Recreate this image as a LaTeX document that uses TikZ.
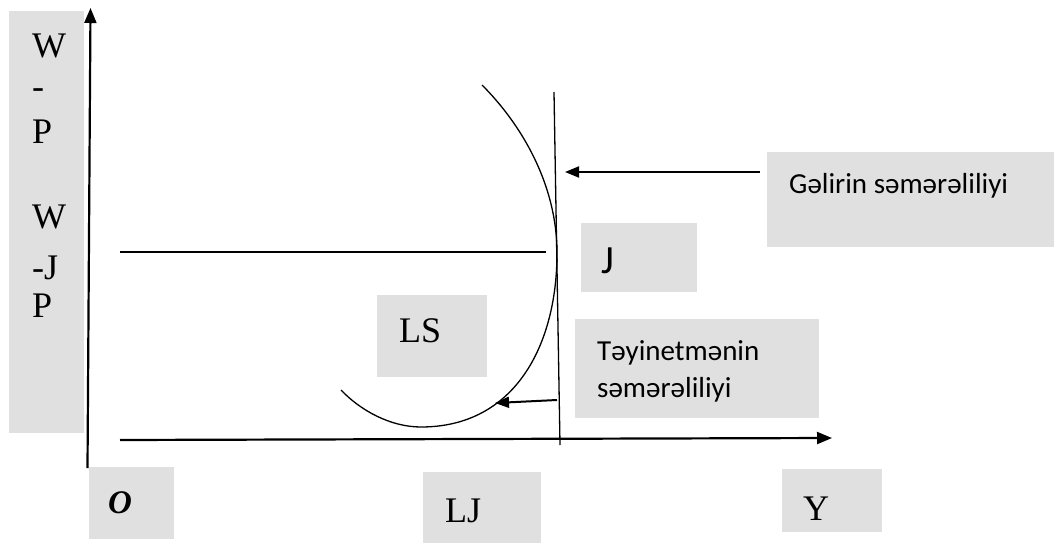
\documentclass[tikz,border=0pt]{standalone}
\usepackage{fontspec}
\setmainfont{Liberation Serif}
\newfontfamily\calib{Carlito}
\usetikzlibrary{arrows.meta}
\definecolor{boxgray}{RGB}{224,224,224}
\tikzset{
  bg/.style={fill=boxgray},
  sertext/.style={anchor=base west, inner sep=0pt, font=\fontsize{36}{40}\selectfont},
  santext/.style={anchor=base west, inner sep=0pt, font=\calib\fontsize{29}{34}\selectfont},
  axis/.style={line width=2.2pt, -{Triangle[length=15pt,width=12pt]}},
  thin/.style={line width=1.3pt},
  pointer/.style={line width=2pt, -{Triangle[length=14pt,width=11pt]}}
}
\begin{document}
\begin{tikzpicture}[x=1pt,y=-1pt]
\useasboundingbox (0,0) rectangle (1054,543);
% gray boxes
\path[bg] (9,11) rectangle (84,433);
\path[bg] (767,152) rectangle (1054,247);
\path[bg] (581,223) rectangle (697,292);
\path[bg] (575,319) rectangle (819,418);
\path[bg] (377,295) rectangle (487,377);
\path[bg] (89,467) rectangle (174,539);
\path[bg] (423,472) rectangle (541,543);
\path[bg] (782,469) rectangle (882,532);
% left label
\node[sertext] (w1) at (32,57) {W};
\node[sertext] (h1) at (32,98) {-};
\node[sertext] (p1) at (32,143) {P};
\node[sertext] (w2) at (32,228) {W};
\node[sertext] (h2) at (32,279) {-J};
\node[sertext] (p2) at (32,317) {P};
% other labels
\node[sertext] (ls) at (399,342) {LS};
\node[sertext] (lj) at (445,522) {LJ};
\node[sertext] (y) at (803,520) {Y};
\node[sertext, font=\fontsize{33}{36}\selectfont\bfseries\itshape] (o) at (108,513) {O};
\node[santext] (gs) at (789,193) {Gəlirin səmərəliliyi};
\node[santext, font=\calib\fontsize{40}{44}\selectfont] (j) at (601,273) {J};
\node[santext] (ts1) at (597,360) {Təyinetmənin};
\node[santext] (ts2) at (597,397) {səmərəliliyi};
% axes
\coordinate (ybot) at (87.5,468);
\coordinate (ytop) at (90.5,8);
\coordinate (xl) at (120,440);
\coordinate (xr) at (832,438);
\draw[axis] (ybot) -- (ytop);
\draw[axis] (xl) -- (xr);
% lines
\coordinate (hl) at (120,252);
\coordinate (hr) at (546,252);
\draw[thin] (hl) -- (hr);
\coordinate (vt) at (554,92);
\coordinate (vb) at (560,445);
\draw[thin] (vt) -- (vb);
% curve
\coordinate (c1) at (482,85);
\coordinate (c2) at (557,253);
\coordinate (c3) at (421,427);
\coordinate (c4) at (341,390);
\draw[thin] (c1) .. controls (522,125) and (557,185) .. (c2)
  .. controls (557,345) and (515,427) .. (c3)
  .. controls (390,427) and (360,410) .. (c4);
% pointers
\coordinate (g1) at (760,172);
\coordinate (g2) at (565,172);
\draw[pointer] (g1) -- (g2);
\coordinate (t1) at (557,400);
\coordinate (t2) at (495,403);
\draw[pointer] (t1) -- (t2);
\end{tikzpicture}
\end{document}
